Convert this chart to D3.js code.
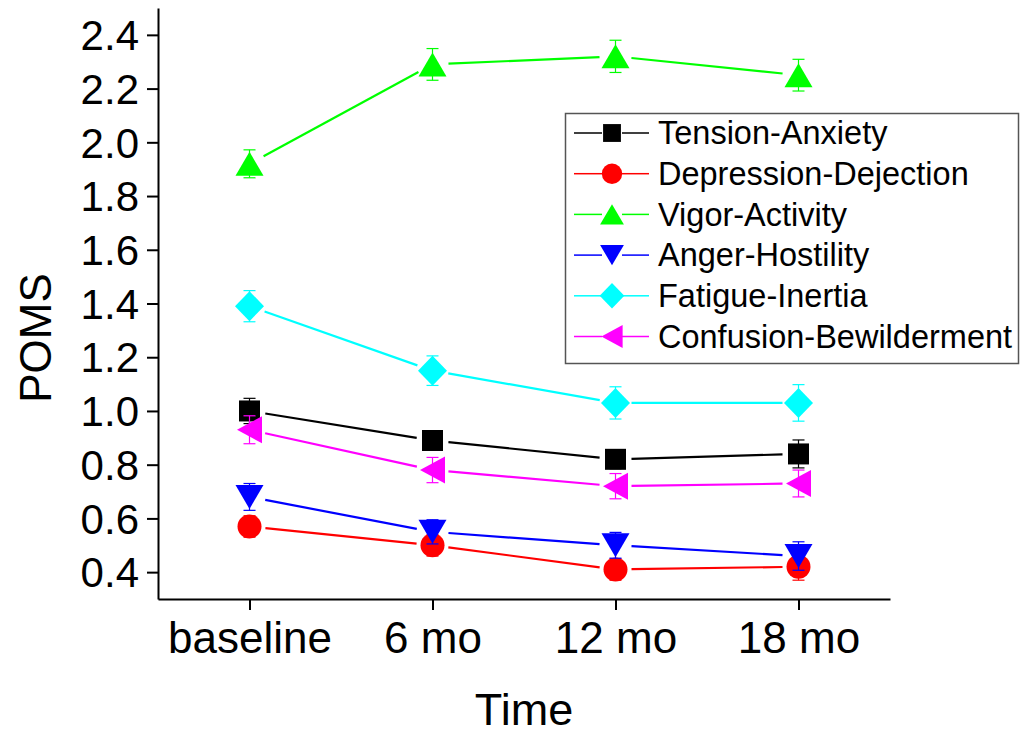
<!DOCTYPE html>
<html>
<head>
<meta charset="utf-8">
<script src="https://cdn.jsdelivr.net/npm/d3@7"></script>
<style>
  body { margin: 0; background: #fff; }
  svg { display: block; font-family: "Liberation Sans", Arial, sans-serif; }
</style>
</head>
<body>
<div id="chart"></div>
<script>
// values
const timepoints = ["baseline", "6 mo", "12 mo", "18 mo"];
const seriesNames = ["Tension-Anxiety", "Depression-Dejection", "Vigor-Activity",
  "Anger-Hostility", "Fatigue-Inertia", "Confusion-Bewilderment"];
const seriesColors = ["#000000", "#ff0000", "#00ff00", "#0000ff", "#00ffff", "#ff00ff"];
const seriesMarkers = ["square", "circle", "triUp", "triDown", "diamond", "triLeft"];

const tensionVals = [1.00, 0.89, 0.82, 0.84];
const depressionVals = [0.57, 0.50, 0.41, 0.42];
const vigorVals = [1.92, 2.29, 2.32, 2.25];
const angerVals = [0.68, 0.55, 0.50, 0.46];
const fatigueVals = [1.39, 1.15, 1.03, 1.03];
const confusionVals = [0.93, 0.78, 0.72, 0.73];

const tensionErr = [0.047, 0.035, 0.035, 0.052];
const depressionErr = [0.04, 0.04, 0.04, 0.05];
const vigorErr = [0.052, 0.059, 0.06, 0.059];
const angerErr = [0.05, 0.045, 0.048, 0.053];
const fatigueErr = [0.058, 0.055, 0.06, 0.068];
const confusionErr = [0.052, 0.047, 0.047, 0.05];

const yTicks = [0.4, 0.6, 0.8, 1.0, 1.2, 1.4, 1.6, 1.8, 2.0, 2.2, 2.4];

const allVals = [tensionVals, depressionVals, vigorVals, angerVals, fatigueVals, confusionVals];
const allErr = [tensionErr, depressionErr, vigorErr, angerErr, fatigueErr, confusionErr];

const series = seriesNames.map((name, i) => ({
  name: name,
  color: seriesColors[i],
  marker: seriesMarkers[i],
  points: timepoints.map((t, j) => ({ t: t, idx: j, v: allVals[i][j], e: allErr[i][j] }))
}));

const W = 1026, H = 735;
const plot = { left: 158, right: 890, top: 8, bottom: 599 };

const svg = d3.select("#chart").append("svg")
  .attr("width", W).attr("height", H);

const x = d3.scaleLinear().domain([-0.5, 3.5]).range([plot.left, plot.right]);
const y = d3.scaleLinear().domain([0.3, 2.5]).range([plot.bottom, plot.top]);

function markerPath(type, k) {
  k = k || 1;
  const p = d3.path();
  if (type === "square") {
    const s = 10.5 * k;
    p.rect(-s, -s, 2 * s, 2 * s);
  } else if (type === "circle") {
    p.arc(0, 0, 12 * k, 0, 2 * Math.PI);
  } else if (type === "triUp") {
    p.moveTo(0, -12 * k); p.lineTo(14 * k, 12 * k); p.lineTo(-14 * k, 12 * k); p.closePath();
  } else if (type === "triDown") {
    p.moveTo(0, 12 * k); p.lineTo(14 * k, -12 * k); p.lineTo(-14 * k, -12 * k); p.closePath();
  } else if (type === "diamond") {
    p.moveTo(0, -15 * k); p.lineTo(14.5 * k, 0); p.lineTo(0, 15 * k); p.lineTo(-14.5 * k, 0); p.closePath();
  } else if (type === "triLeft") {
    p.moveTo(-12.5 * k, 0); p.lineTo(12.5 * k, -13.5 * k); p.lineTo(12.5 * k, 13.5 * k); p.closePath();
  }
  return p.toString();
}

// axes
const yAxis = d3.axisLeft(y).tickValues(yTicks).tickSize(11).tickSizeOuter(0).tickPadding(8)
  .tickFormat(d3.format(".1f"));
const xAxis = d3.axisBottom(x).tickValues([0, 1, 2, 3]).tickSize(11).tickSizeOuter(0).tickPadding(11)
  .tickFormat(i => timepoints[i]);

const gy = svg.append("g").attr("transform", `translate(${plot.left},0)`).call(yAxis);
const gx = svg.append("g").attr("transform", `translate(0,${plot.bottom})`).call(xAxis);

[gx, gy].forEach(g => {
  g.select(".domain").attr("stroke", "#000").attr("stroke-width", 2);
  g.selectAll(".tick line").attr("stroke", "#000").attr("stroke-width", 2);
  g.selectAll("text").attr("fill", "#000").attr("font-family", "Liberation Sans, Arial, sans-serif");
});
gy.selectAll("text").attr("font-size", 42).attr("dy", "0.35em");
gx.selectAll("text").attr("font-size", 44).attr("dy", "0.72em");

svg.append("text")
  .attr("x", 524).attr("y", 725)
  .attr("text-anchor", "middle")
  .attr("font-size", 45)
  .text("Time");

svg.append("text")
  .attr("transform", "translate(51,338) rotate(-90)")
  .attr("text-anchor", "middle")
  .attr("font-size", 44)
  .text("POMS");

// series
const gap = 16;
series.forEach(s => {
  const g = svg.append("g");
  const pts = s.points.map(d => [x(d.idx), y(d.v)]);

  // connecting lines, trimmed near the markers
  for (let i = 0; i < pts.length - 1; i++) {
    const [x1, y1] = pts[i], [x2, y2] = pts[i + 1];
    const len = Math.hypot(x2 - x1, y2 - y1);
    const ux = (x2 - x1) / len, uy = (y2 - y1) / len;
    g.append("line")
      .attr("x1", x1 + ux * gap).attr("y1", y1 + uy * gap)
      .attr("x2", x2 - ux * gap).attr("y2", y2 - uy * gap)
      .attr("stroke", s.color).attr("stroke-width", 2.2);
  }

  // error bars
  const eb = g.selectAll(".err").data(s.points).join("g").attr("class", "err")
    .attr("stroke", s.color).attr("stroke-width", 1.2);
  eb.append("line")
    .attr("x1", d => x(d.idx)).attr("x2", d => x(d.idx))
    .attr("y1", d => y(d.v - d.e)).attr("y2", d => y(d.v + d.e));
  eb.append("line")
    .attr("x1", d => x(d.idx) - 6).attr("x2", d => x(d.idx) + 6)
    .attr("y1", d => y(d.v + d.e)).attr("y2", d => y(d.v + d.e));
  eb.append("line")
    .attr("x1", d => x(d.idx) - 6).attr("x2", d => x(d.idx) + 6)
    .attr("y1", d => y(d.v - d.e)).attr("y2", d => y(d.v - d.e));

  g.selectAll(".mk").data(s.points).join("path").attr("class", "mk")
    .attr("d", markerPath(s.marker))
    .attr("transform", d => `translate(${x(d.idx)},${y(d.v)})`)
    .attr("fill", s.color);
});

// legend
const legend = svg.append("g");
legend.append("rect")
  .attr("x", 565.5).attr("y", 113.5).attr("width", 453).attr("height", 250)
  .attr("fill", "#fff").attr("stroke", "#555").attr("stroke-width", 1.5);

const rows = legend.selectAll(".row").data(series).join("g").attr("class", "row")
  .attr("transform", (d, i) => `translate(0,${133 + i * 40.7})`);
rows.append("line").attr("x1", 574).attr("x2", 602).attr("y1", 0).attr("y2", 0)
  .attr("stroke", d => d.color).attr("stroke-width", 1.5);
rows.append("line").attr("x1", 622).attr("x2", 649).attr("y1", 0).attr("y2", 0)
  .attr("stroke", d => d.color).attr("stroke-width", 1.5);
rows.append("path")
  .attr("d", d => markerPath(d.marker, 0.85))
  .attr("transform", "translate(612,0)")
  .attr("fill", d => d.color);
rows.append("text")
  .attr("x", 658).attr("y", 0).attr("dy", "0.35em")
  .attr("font-size", 32.5)
  .text(d => d.name);
</script>
</body>
</html>
